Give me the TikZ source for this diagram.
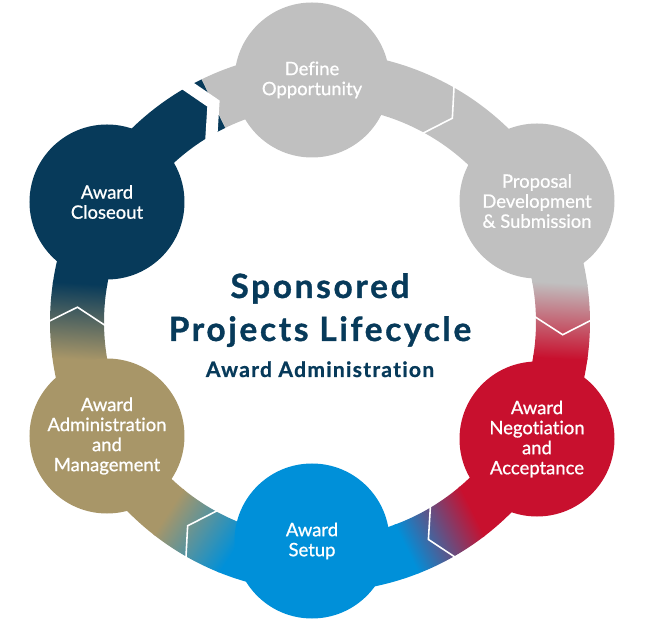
\documentclass[tikz,border=0pt]{standalone}
\usepackage{fontspec}
\setmainfont{Lato}[Ligatures=NoCommon]
\newfontfamily\stagefont{Lato}[FakeBold=0.8, Ligatures=NoCommon]
\newfontfamily\headfont{Lato}[LetterSpace=8, FakeBold=1, Ligatures=NoCommon]
\newfontfamily\subheadfont{Lato}[LetterSpace=6, FakeBold=0.8, Ligatures=NoCommon]

\definecolor{definegrey}{RGB}{192,192,192}
\definecolor{negotred}{RGB}{200,16,46}
\definecolor{setupblue}{RGB}{0,144,217}
\definecolor{admintan}{RGB}{168,150,104}
\definecolor{closenavy}{RGB}{7,58,90}

\begin{document}
\begin{tikzpicture}[x=0.2mm, y=0.2mm,
  stage/.style={circle, minimum size=3.1cm, inner sep=0pt, align=center, text=white,
    font=\stagefont\fontsize{10.5}{11.4}\selectfont},
  sepline/.style={draw=white, line width=0.9pt},
  gapline/.style={draw=white, line width=6.8pt},
  heading/.style={text=closenavy, anchor=base, font=\headfont\bfseries\fontsize{19}{22}\selectfont}]
\useasboundingbox (-320,-304) rectangle (326,322);

% ring band
\fill[closenavy] (116:216) arc[start angle=116, end angle=150.6, radius=216]
  -- (150.6:270) arc[start angle=150.6, end angle=116, radius=270] -- cycle;
\fill[definegrey] (29.1:216) arc[start angle=29.1, end angle=116, radius=216]
  -- (116:270) arc[start angle=116, end angle=29.1, radius=270] -- cycle;
\foreach \a/\b/\s/\cp/\cq in {29.1/-28.3/-3/definegrey/negotred,
    -28.3/-92/-63.5/negotred/setupblue, -92/-151.8/-123/setupblue/admintan,
    -151.8/-209.4/-183.5/admintan/closenavy}{
  \begin{scope}
    \clip (\b:216) arc[start angle=\b, end angle=\a, radius=216]
      -- (\a:270) arc[start angle=\a, end angle=\b, radius=270] -- cycle;
    \begin{scope}[transform canvas={rotate=\s}]
      \fill[\cp] (150,50) rectangle (300,300);
      \fill[\cq] (150,-300) rectangle (300,-22);
      \shade[top color=\cp, bottom color=\cq] (150,-24) rectangle (300,52);
    \end{scope}
  \end{scope}
}

% step separators
\foreach \s in {57,-3,-63.5,-123,176.5}
  \draw[sepline, rotate=\s] (276,19) -- (243,0) -- (210,19);
\draw[gapline, rotate=116] (280,21) -- (243,0) -- (206,21);

% stages
\node[stage, fill=definegrey] (define) at (-8,242) {Define\\Opportunity};
\node[stage, fill=definegrey] (proposal) at (217,121) {Proposal\\Development\\\& Submission};
\node[stage, fill=negotred] (negotiation) at (217,-117) {Award\\Negotiation\\and\\Acceptance};
\node[stage, fill=setupblue] (setup) at (-8,-219) {Award\\Setup};
\node[stage, fill=admintan] (admin) at (-213,-114) {Award\\Administration\\and\\Management};
\node[stage, fill=closenavy] (closeout) at (-213,120) {Award\\Closeout};

% title
\node[heading] (sponsored) at (0,24) {Sponsored};
\node[heading] (lifecycle) at (0,-19) {Projects Lifecycle};
\node[heading, font=\subheadfont\bfseries\fontsize{12}{14}\selectfont] (phase) at (0,-55) {Award Administration};
\end{tikzpicture}
\end{document}
